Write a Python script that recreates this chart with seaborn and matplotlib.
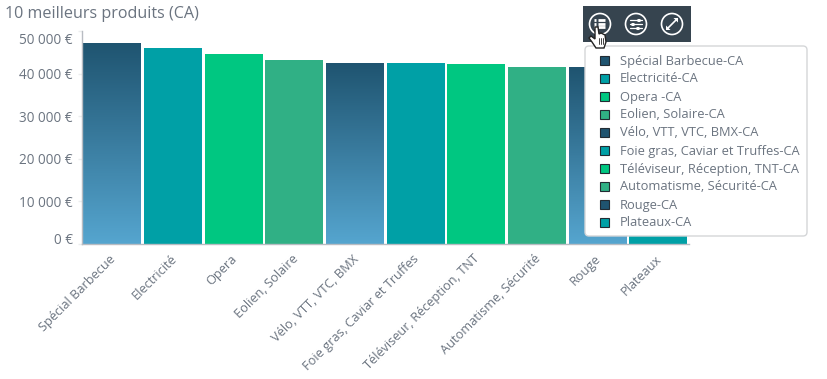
import numpy as np
import pandas as pd
import matplotlib
matplotlib.use("Agg")
import matplotlib.pyplot as plt
from matplotlib.patches import FancyBboxPatch, Rectangle, Circle, Polygon
from matplotlib.transforms import ScaledTranslation
import seaborn as sns

categories = ["Spécial Barbecue", "Electricité", "Opera", "Eolien, Solaire",
              "Vélo, VTT, VTC, BMX", "Foie gras, Caviar et Truffes",
              "Téléviseur, Réception, TNT", "Automatisme, Sécurité", "Rouge", "Plateaux"]
values = [47200, 46100, 44700, 43300, 42600, 42400, 42300, 41600, 41500, 41200]
legend_labels = ["Spécial Barbecue-CA", "Electricité-CA", "Opera -CA", "Eolien, Solaire-CA",
                 "Vélo, VTT, VTC, BMX-CA", "Foie gras, Caviar et Truffes-CA",
                 "Téléviseur, Réception, TNT-CA", "Automatisme, Sécurité-CA", "Rouge-CA", "Plateaux-CA"]
y_ticks = [0, 10000, 20000, 30000, 40000, 50000]
y_labels = ["0 €", "10 000 €", "20 000 €", "30 000 €", "40 000 €", "50 000 €"]
title = "10 meilleurs produits (CA)"
palette_cycle = ["#2b6482", "#00a0a6", "#00c781", "#30b085"]
legend_swatches = ["#1f5470", "#00a0a6", "#00c781", "#30b085"]

W, H = 828, 379
sns.set_theme(style="white")
plt.rcParams["font.family"] = ["Open Sans", "DejaVu Sans"]
TXT = "#6b7480"

fig = plt.figure(figsize=(W / 100, H / 100), dpi=100, facecolor="white")
L, R, T, B = 82, 688.5, 31, 244
ax = fig.add_axes([L / W, 1 - B / H, (R - L) / W, (B - T) / H])

df = pd.DataFrame({"cat": categories, "val": values})
colors = [palette_cycle[i % 4] for i in range(len(categories))]
sns.barplot(data=df, x="cat", y="val", hue="cat", palette=colors, legend=False,
            ax=ax, width=0.955, saturation=1, edgecolor="none")
ax.set_xlim(-0.5, len(categories) - 0.5)
ax.set_ylim(0, 50000)
ax.set_xlabel("")
ax.set_ylabel("")

# gradient on the blue bars
grad = np.linspace(0, 1, 128).reshape(-1, 1)
cmap = matplotlib.colors.LinearSegmentedColormap.from_list("g", ["#1f5470", "#55a5cf"])
for i, patch in enumerate(ax.patches):
    if i % 4 == 0:
        x0, y0, w, h = patch.get_x(), patch.get_y(), patch.get_width(), patch.get_height()
        im = ax.imshow(grad, extent=[x0, x0 + w, y0, y0 + h], aspect="auto", cmap=cmap,
                       origin="upper", zorder=patch.get_zorder() + 0.1)
        im.set_clip_path(patch)
ax.set_xlim(-0.5, len(categories) - 0.5)
ax.set_ylim(0, 50000)

for s in ("top", "right"):
    ax.spines[s].set_visible(False)
for s in ("left", "bottom"):
    ax.spines[s].set_color("#b8bcc2")
    ax.spines[s].set_linewidth(1.0)

ax.set_yticks(y_ticks)
ax.set_yticklabels(y_labels, fontsize=9.8, color=TXT)
ax.tick_params(axis="y", left=True, length=3, width=1, color="#eceeef", pad=3.5)
ax.tick_params(axis="x", bottom=False, pad=0)
for lab, dy in zip(ax.get_yticklabels(), [5, 0, 0, 0, 0, -7]):
    lab.set_transform(lab.get_transform() + ScaledTranslation(0, dy / 100, fig.dpi_scale_trans))
ax.set_xticks(range(len(categories)))
ax.set_xticklabels(categories, rotation=45, ha="right", rotation_mode="anchor",
                   fontsize=9.2, color=TXT)
for lab in ax.get_xticklabels():
    lab.set_transform(lab.get_transform() + ScaledTranslation(-3 / 100, 0, fig.dpi_scale_trans))

fig.text(5 / W, 1 - 14 / H, title, fontsize=11.6, color=TXT, ha="left", va="center")

# overlay in pixel coordinates
ov = fig.add_axes([0, 0, 1, 1], facecolor="none")
ov.set_xlim(0, W)
ov.set_ylim(H, 0)
ov.axis("off")

# toolbar
ov.add_patch(Rectangle((583, 6), 108, 36, fc="#36444f", ec="none"))
for cx in (600, 636, 672):
    ov.add_patch(Circle((cx, 24), 10.5, fc="none", ec="white", lw=1.2))
# list icon
for yy in (20, 23.5, 27):
    ov.plot([598, 605], [yy, yy], color="white", lw=2, solid_capstyle="butt")
    ov.plot([594.5, 596], [yy, yy], color="white", lw=2, solid_capstyle="butt")
# sliders icon
for yy, xm in ((20, 639), (24, 633), (28, 638)):
    ov.plot([630, 642], [yy, yy], color="white", lw=0.9)
    ov.plot([xm - 1.5, xm + 1.5], [yy, yy], color="white", lw=2.2, solid_capstyle="butt")
# expand icon
ov.plot([668, 676], [28, 20], color="white", lw=1.2)
ov.add_patch(Polygon([[678, 18], [678, 22.5], [673.5, 18]], fc="white", ec="none"))
ov.add_patch(Polygon([[666, 30], [666, 25.5], [670.5, 30]], fc="white", ec="none"))

# legend box
ov.add_patch(FancyBboxPatch((585, 46), 222, 190, boxstyle="round,pad=0,rounding_size=4",
                            fc="white", ec="#d4d6d8", lw=1, zorder=5))
for i, name in enumerate(legend_labels):
    yy = 60 + i * 18
    ov.add_patch(Rectangle((600.5, yy - 4.5), 9, 9, fc=legend_swatches[i % 4], ec="#222b33",
                           lw=0.8, zorder=6))
    ov.text(620, yy + 1, name, fontsize=9.3, color=TXT, ha="left", va="center", zorder=6)

# hand cursor
hand = [[595, 27], [598, 27], [599, 34], [601, 33], [603, 34], [605, 35], [606, 42], [604, 48],
        [596, 48], [592, 42], [589, 38], [591, 36], [595, 39]]
ov.add_patch(Polygon(hand, fc="white", ec="#222222", lw=1, zorder=7))
for xx in (599.5, 601.5, 603.5):
    ov.plot([xx, xx], [38, 44], color="#222222", lw=0.6, zorder=8)

fig.savefig("out.png", dpi=100)
